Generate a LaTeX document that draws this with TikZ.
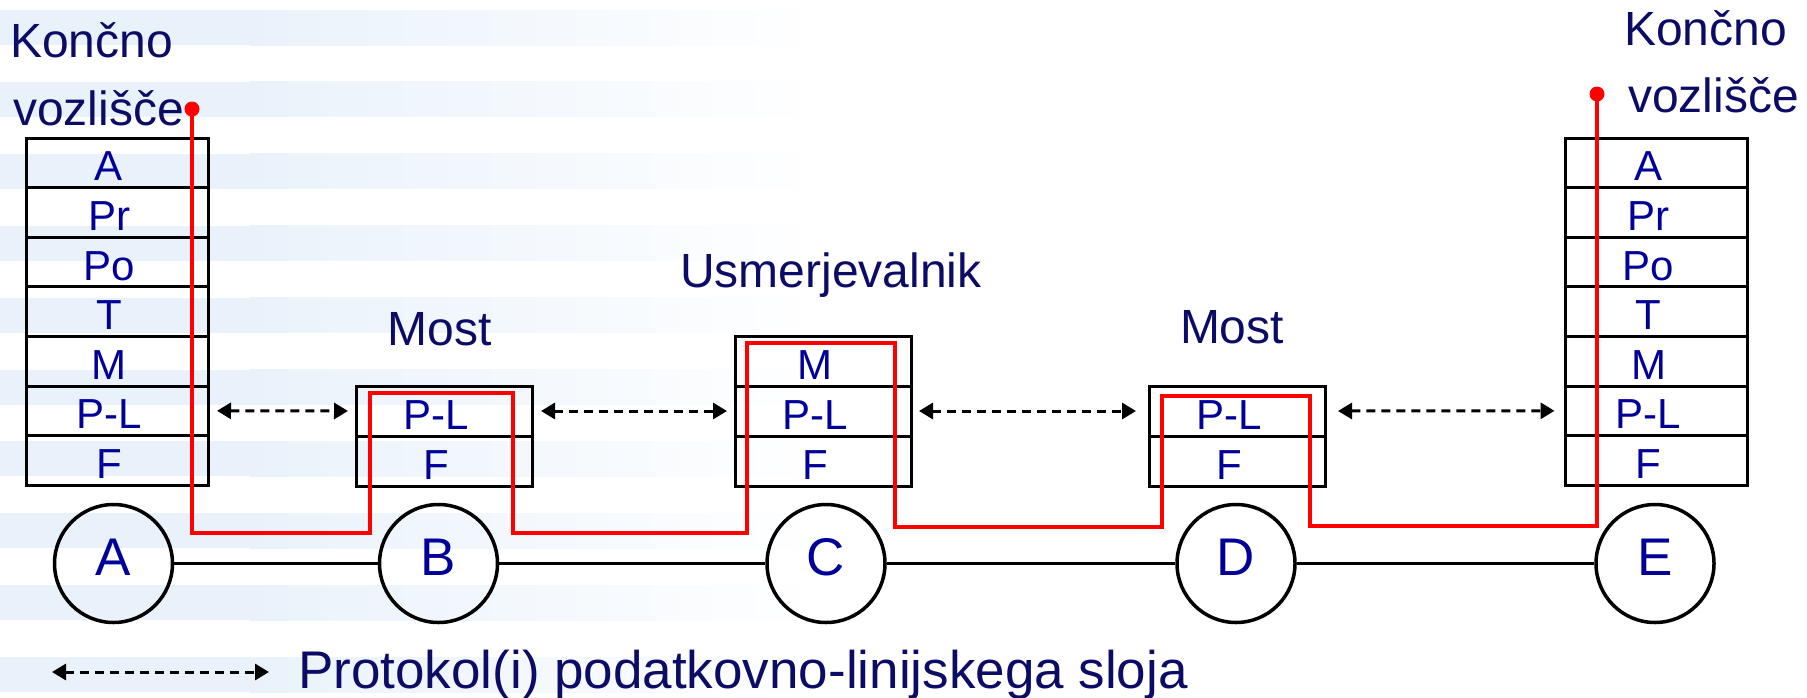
\documentclass[tikz,border=0pt]{standalone}
\usepackage{fontspec}
\setmainfont{Liberation Sans}
\usetikzlibrary{arrows.meta}
\definecolor{navy}{RGB}{12,12,102}
\definecolor{lblue}{RGB}{0,0,153}
\definecolor{bandblue}{RGB}{233,242,251}
\newcommand\lyr[1]{#1\hspace*{16pt}}
\begin{document}
\begin{tikzpicture}[x=1pt,y=-1pt,
  layer/.style={draw, line width=3pt, minimum width=182pt, minimum height=49.6pt, inner sep=0pt, outer sep=0pt, font=\fontsize{42}{42}\selectfont, text=lblue, text height=36pt, text depth=0pt},
  blayer/.style={layer, minimum width=176pt, minimum height=50pt},
  station/.style={circle, draw, line width=3.5pt, minimum size=118pt, inner sep=0pt, font=\fontsize{53}{53}\selectfont, text=lblue, text height=38pt, text depth=15pt},
  title/.style={font=\fontsize{48}{48}\selectfont, text=navy, inner sep=0pt},
  legendtext/.style={font=\fontsize{53}{53}\selectfont, text=navy, inner sep=0pt},
  proto/.style={line width=3pt, dash pattern=on 9pt off 6pt, {Triangle[length=14pt,width=16pt]}-{Triangle[length=14pt,width=16pt]}},
  route/.style={red, line width=4pt, line join=miter},
  link/.style={line width=3.5pt}
]
\useasboundingbox (0,0) rectangle (1807,697);
% background bands
\foreach \k in {0,...,9} {
  \pgfmathsetmacro\yy{10+71.9*\k}
  \fill[bandblue] (0,\yy) rectangle (251,\yy+35);
  \shade[left color=bandblue, right color=white] (250,\yy) rectangle (820,\yy+35);
}
% end node stacks
\foreach \n/\t [count=\i from 0] in {A/A, Pr/Pr, Po/Po, T/T, M/M, PL/P-L, F/F} {
  \node[layer] (a\n) at (117,162.8+49.6*\i) {\lyr{\t}};
  \node[layer] (e\n) at (1656.5,162.8+49.6*\i) {\lyr{\t}};
}
% bridges and router
\node[blayer] (bPL) at (444,411) {\lyr{P-L}};
\node[blayer] (bF) at (444,461) {\lyr{F}};
\node[blayer] (cM) at (823,361) {\lyr{M}};
\node[blayer] (cPL) at (823,411) {\lyr{P-L}};
\node[blayer] (cF) at (823,461) {\lyr{F}};
\node[blayer] (dPL) at (1237,411) {\lyr{P-L}};
\node[blayer] (dF) at (1237,461) {\lyr{F}};
% stations
\node[station] (sA) at (113.5,563.5) {A};
\node[station] (sB) at (438.5,563.5) {B};
\node[station] (sC) at (826,563.5) {C};
\node[station] (sD) at (1236,563.5) {D};
\node[station] (sE) at (1655,563.5) {E};
\draw[link] (sA) -- (sB);
\draw[link] (sB) -- (sC);
\draw[link] (sC) -- (sD);
\draw[link] (sD) -- (sE);
% titles
\node[title, anchor=base west] (konL) at (10,57) {Končno};
\node[title, anchor=base west] (vozL) at (13,125) {vozlišče};
\node[title, anchor=base west] (konR) at (1624,45) {Končno};
\node[title, anchor=base west] (vozR) at (1628,112) {vozlišče};
\node[title, anchor=base] (mostB) at (440,345) {Most};
\node[title, anchor=base] (usm) at (831,287) {Usmerjevalnik};
\node[title, anchor=base] (mostD) at (1232,343) {Most};
% protocol arrows
\draw[proto, shorten <=9pt, shorten >=8pt] (aPL.east) -- (bPL.west);
\draw[proto, shorten <=9pt, shorten >=8pt] (bPL.east) -- (cPL.west);
\draw[proto, shorten <=8pt, shorten >=13pt] (cPL.east) -- (dPL.west);
\draw[proto, shorten <=13pt, shorten >=11pt] (dPL.east) -- (ePL.west);
% data route
\coordinate (dotL) at (192,109);
\coordinate (dotR) at (1597,94);
\draw[route] (dotL) -- (192,533) -- (370,533) -- (370,393) -- (513,393) -- (513,533)
  -- (747,533) -- (747,343) -- (895,343) -- (895,527) -- (1162,527) -- (1162,396)
  -- (1310,396) -- (1310,526) -- (1597,526) -- (dotR);
\fill[red] (dotL) circle (7.5pt);
\fill[red] (dotR) circle (7.5pt);
% legend
\coordinate (legL) at (52,672);
\coordinate (legR) at (269,672);
\draw[proto] (legL) -- (legR);
\node[legendtext, anchor=base west] (leg) at (298,688) {Protokol(i) podatkovno-linijskega sloja};
\end{tikzpicture}
\end{document}
